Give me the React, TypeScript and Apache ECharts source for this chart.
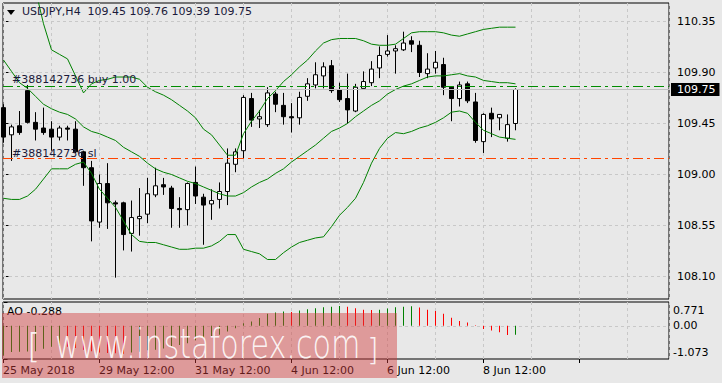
import React, { useEffect, useRef } from 'react';
import * as echarts from 'echarts';

const symbolName = 'USDJPY,H4';
const orderId = '#388142736';
const buyLabel = 'buy 1.00';
const slLabel = 'sl';
const buyPrice = 109.7765;
const slPrice = 109.1412;
const lastPrice = 109.75;

const opens = [109.59,109.35,109.43,109.74,109.46,109.41,109.40,109.33,109.41,109.40,109.20,109.06,108.58,108.92,108.75,108.75,108.48,108.61,108.65,108.82,108.91,108.88,108.70,108.69,108.93,108.80,108.74,108.78,108.85,109.09,109.21,109.67,109.49,109.44,109.71,109.61,109.51,109.50,109.69,109.79,109.87,109.96,109.75,109.67,109.56,109.76,109.81,109.94,110.06,110.09,110.10,110.18,110.14,109.89,109.94,109.97,109.77,109.67,109.80,109.64,109.29,109.54,109.50,109.32,109.45];
const highs = [109.62,109.44,109.56,109.79,109.55,109.59,109.47,109.43,109.43,109.47,109.21,109.12,109.00,109.10,108.77,108.76,108.77,108.88,108.97,109.06,108.97,108.90,108.80,108.93,109.07,108.83,108.87,108.93,109.23,109.23,109.70,109.72,109.57,109.77,109.73,109.72,109.63,109.73,109.85,109.99,109.99,110.01,109.81,109.89,109.80,109.91,110.00,110.13,110.23,110.14,110.26,110.22,110.18,110.07,110.09,110.03,109.78,109.82,109.82,109.72,109.54,109.59,109.53,109.53,109.76];
const lows = [109.28,109.12,109.35,109.45,109.30,109.35,109.21,109.30,109.30,109.19,108.90,108.41,108.53,108.52,108.09,108.33,108.32,108.46,108.57,108.80,108.82,108.53,108.53,108.55,108.74,108.38,108.60,108.70,108.73,109.02,109.14,109.42,109.41,109.42,109.55,109.44,109.37,109.44,109.65,109.76,109.76,109.72,109.64,109.45,109.55,109.76,109.78,109.85,110.04,109.89,110.09,110.08,109.86,109.85,109.89,109.70,109.47,109.60,109.63,109.28,109.19,109.33,109.39,109.29,109.39];
const closes = [109.33,109.42,109.37,109.46,109.40,109.37,109.33,109.41,109.40,109.20,109.06,108.59,108.92,108.75,108.74,108.47,108.62,108.63,108.83,108.90,108.89,108.70,108.69,108.92,108.81,108.73,108.77,108.85,109.10,109.20,109.68,109.48,109.51,109.72,109.62,109.51,109.50,109.68,109.80,109.88,109.95,109.74,109.66,109.57,109.77,109.82,109.93,110.05,110.09,110.11,110.16,110.15,109.90,109.93,109.99,109.77,109.67,109.79,109.65,109.30,109.53,109.49,109.53,109.44,109.75];

const bbUpper = [111.20,111.10,111.00,110.86,110.63,110.33,110.10,110.06,110.02,109.87,109.72,109.80,109.83,109.84,109.86,109.86,109.86,109.84,109.77,109.73,109.70,109.66,109.61,109.56,109.50,109.40,109.35,109.26,109.17,109.17,109.36,109.47,109.56,109.67,109.74,109.82,109.88,109.95,110.01,110.09,110.16,110.19,110.20,110.20,110.20,110.18,110.15,110.14,110.14,110.15,110.20,110.25,110.26,110.26,110.26,110.25,110.23,110.22,110.24,110.26,110.28,110.29,110.30,110.30,110.30];
const bbMiddle = [110.01,109.91,109.81,109.76,109.69,109.62,109.58,109.55,109.53,109.49,109.42,109.38,109.36,109.33,109.30,109.24,109.20,109.16,109.10,109.05,109.02,109.00,108.97,108.94,108.92,108.89,108.86,108.83,108.81,108.81,108.84,108.89,108.93,108.96,109.01,109.05,109.11,109.16,109.21,109.26,109.32,109.38,109.41,109.45,109.51,109.56,109.61,109.65,109.71,109.75,109.78,109.80,109.83,109.86,109.87,109.87,109.88,109.89,109.87,109.86,109.83,109.82,109.81,109.81,109.80];
const bbLower = [108.79,108.78,108.78,108.81,108.87,108.96,109.05,109.05,109.05,109.09,109.11,109.01,108.87,108.79,108.71,108.59,108.47,108.41,108.40,108.40,108.38,108.36,108.34,108.34,108.35,108.35,108.37,108.41,108.47,108.47,108.34,108.32,108.30,108.25,108.25,108.31,108.36,108.40,108.42,108.44,108.45,108.54,108.64,108.71,108.79,108.93,109.10,109.23,109.32,109.37,109.36,109.38,109.41,109.43,109.46,109.50,109.55,109.56,109.54,109.46,109.39,109.36,109.33,109.32,109.31];

const aoValues = [-0.95,-0.85,-0.84,-0.83,-0.82,-0.74,-0.68,-0.66,-0.68,-0.72,-0.77,-0.82,-0.86,-0.88,-0.89,-0.90,-0.86,-0.84,-0.79,-0.77,-0.73,-0.68,-0.62,-0.56,-0.47,-0.40,-0.34,-0.29,-0.18,-0.08,0.08,0.14,0.25,0.39,0.43,0.46,0.45,0.50,0.54,0.57,0.60,0.62,0.645,0.62,0.57,0.52,0.51,0.52,0.56,0.60,0.62,0.63,0.59,0.52,0.48,0.39,0.26,0.16,0.11,0.02,-0.10,-0.15,-0.21,-0.30,-0.288];

const priceTicks = [108.10, 108.55, 109.00, 109.45, 109.90, 110.35];
const aoTicks = [-1.073, 0, 0.771];
const timeLabels = ['25 May 2018', '29 May 12:00', '31 May 12:00', '4 Jun 12:00', '6 Jun 12:00', '8 Jun 12:00'];

const FONT = 'DejaVu Sans';
const BG = '#e8e8e8';
const X_MIN = -0.0625;
const X_MAX = 83.1875;
const Y_MIN = 107.9014;
const Y_MAX = 110.5132;
const AO_MIN = -1.073;
const AO_MAX = 0.771;

export default function App() {
  const ref = useRef<HTMLDivElement>(null);

  useEffect(() => {
    const chart = echarts.init(ref.current as HTMLDivElement, null, { renderer: 'svg' });
    const n = closes.length;
    const candleData = opens.map((o, i) => [i, o, closes[i], lows[i], highs[i]]);
    const band = (arr: number[]) => arr.map((v, i) => [i, v]);
    const aoData = aoValues.map((v, i) => ({
      value: [i, v],
      itemStyle: { color: i === 0 || v > aoValues[i - 1] ? '#008000' : '#ff0000' },
    }));
    const txt = { fontFamily: FONT, fontSize: 11, color: '#000' };
    const bandLine = (data: number[], name: string) => ({
      name,
      type: 'line',
      xAxisIndex: 0,
      yAxisIndex: 0,
      data: band(data),
      symbol: 'none',
      z: 3,
      lineStyle: { color: '#008000', width: 1 },
    });

    const option: any = {
      animation: false,
      backgroundColor: BG,
      textStyle: { fontFamily: FONT },
      title: [
        {
          text: `${symbolName}  ${opens[n - 1].toFixed(2)} ${highs[n - 1].toFixed(2)} ${lows[n - 1].toFixed(2)} ${closes[n - 1].toFixed(2)}`,
          left: 22,
          top: 6,
          padding: 0,
          textStyle: { fontFamily: FONT, fontSize: 11, fontWeight: 'normal', color: '#1a1a3a' },
        },
        {
          text: `AO ${aoValues[n - 1].toFixed(3)}`,
          left: 7,
          top: 306,
          padding: 0,
          textStyle: { fontFamily: FONT, fontSize: 11, fontWeight: 'normal', color: '#000' },
        },
      ],
      grid: [
        { left: 3, top: 3, width: 666, height: 296, show: true, borderColor: '#000', borderWidth: 1, backgroundColor: 'transparent' },
        { left: 3, top: 302, width: 666, height: 57, show: true, borderColor: '#000', borderWidth: 1, backgroundColor: 'transparent' },
      ],
      xAxis: [
        {
          type: 'value', gridIndex: 0, min: X_MIN, max: X_MAX, interval: 6,
          axisLine: { show: false }, axisTick: { show: false }, axisLabel: { show: false },
          splitLine: { show: true, lineStyle: { color: '#c8c8c8', type: [3, 3], width: 1 } },
        },
        {
          type: 'value', gridIndex: 1, min: X_MIN, max: X_MAX, interval: 6, position: 'top',
          axisLine: { show: false }, axisTick: { show: false }, axisLabel: { show: false },
          splitLine: { show: true, lineStyle: { color: '#c8c8c8', type: [3, 3], width: 1 } },
        },
        {
          type: 'value', gridIndex: 1, min: X_MIN, max: X_MAX, interval: 12, position: 'bottom',
          axisLine: { show: false },
          axisTick: { show: true, length: 4, lineStyle: { color: '#000' } },
          axisLabel: {
            ...txt, align: 'left', margin: 6, showMinLabel: true, showMaxLabel: false,
            formatter: (v: number) => timeLabels[Math.round((v - X_MIN) / 12)] ?? '',
          },
          splitLine: { show: false },
        },
      ],
      yAxis: [
        {
          type: 'value', gridIndex: 0, position: 'right', min: Y_MIN, max: Y_MAX,
          axisLine: { show: false },
          axisTick: { show: true, customValues: priceTicks, length: 5, lineStyle: { color: '#000' } },
          axisLabel: { ...txt, customValues: priceTicks, margin: 8, formatter: (v: number) => v.toFixed(2) },
          splitLine: { show: false },
        },
        {
          type: 'value', gridIndex: 1, position: 'right', min: AO_MIN, max: AO_MAX,
          axisLine: { show: false },
          axisTick: { show: true, customValues: aoTicks, length: 4, lineStyle: { color: '#000' } },
          axisLabel: {
            ...txt, customValues: aoTicks, margin: 4,
            formatter: (v: number) => {
              if (Math.abs(v - AO_MAX) < 1e-6) return `{t|${v.toFixed(3)}}`;
              if (Math.abs(v - AO_MIN) < 1e-6) return `{b|${v.toFixed(3)}}`;
              return v.toFixed(2);
            },
            rich: {
              t: { ...txt, padding: [17, 0, 0, 0] },
              b: { ...txt, padding: [0, 0, 14, 0] },
            },
          },
          splitLine: { show: false },
        },
      ],
      series: [
        {
          name: symbolName,
          type: 'candlestick',
          xAxisIndex: 0,
          yAxisIndex: 0,
          data: candleData,
          barWidth: 4,
          z: 2,
          itemStyle: { color: '#ffffff', color0: '#000000', borderColor: '#000000', borderColor0: '#000000', borderWidth: 1 },
          markLine: {
            z: 1,
            silent: true,
            symbol: 'none',
            label: { show: false },
            lineStyle: { color: '#c8c8c8', type: [3, 3], width: 1 },
            data: priceTicks.map((v) => ({ yAxis: v })),
          },
        },
        bandLine(bbUpper, 'BB upper'),
        bandLine(bbMiddle, 'BB middle'),
        {
          ...bandLine(bbLower, 'BB lower'),
          markLine: {
            z: 6,
            silent: true,
            symbol: 'none',
            data: [
              {
                yAxis: lastPrice,
                lineStyle: { color: '#c0c0c0', type: 'solid', width: 1 },
                label: {
                  show: true, position: 'end', formatter: lastPrice.toFixed(2), distance: 2,
                  backgroundColor: '#000', color: '#fff', padding: [1, 4, 1, 6], fontFamily: FONT, fontSize: 11,
                },
              },
              {
                yAxis: buyPrice,
                lineStyle: { color: '#008c00', type: [10, 4, 3, 4], width: 1 },
                label: {
                  show: true, position: 'insideStartTop', formatter: `${orderId} ${buyLabel}`, distance: [9, 1],
                  color: '#1a1a3a', fontFamily: FONT, fontSize: 11,
                },
              },
              {
                yAxis: slPrice,
                lineStyle: { color: '#ff4500', type: [10, 4, 3, 4], width: 1 },
                label: {
                  show: true, position: 'insideStartTop', formatter: `${orderId} ${slLabel}`, distance: [9, 0],
                  color: '#1a1a3a', fontFamily: FONT, fontSize: 11,
                },
              },
            ],
          },
        },
        {
          name: 'AO',
          type: 'bar',
          xAxisIndex: 1,
          yAxisIndex: 1,
          data: aoData,
          barWidth: 1,
          z: 2,
          markLine: {
            z: 1,
            silent: true,
            symbol: 'none',
            label: { show: false },
            lineStyle: { color: '#c8c8c8', type: [3, 3], width: 1 },
            data: [{ yAxis: 0 }],
          },
        },
      ],
      graphic: {
        elements: [
          { type: 'polygon', shape: { points: [[7, 10], [15, 10], [11, 15]] }, style: { fill: '#000' }, z: 10 },
          { type: 'rect', shape: { x: 2, y: 313, width: 395, height: 65 }, style: { fill: 'rgba(210,60,60,0.45)' }, z: 100 },
          {
            type: 'text', x: 27, y: 346, z: 101,
            style: { text: '[', fill: 'rgba(255,255,255,0.9)', font: '200 34px "DejaVu Sans"', align: 'left', verticalAlign: 'middle', textAlign: 'left', textVerticalAlign: 'middle' },
          },
          {
            type: 'text', x: 55, y: 344, scaleX: 0.755, z: 101,
            style: { text: 'www.instaforex.com', fill: 'rgba(255,255,255,0.9)', font: '200 40px "DejaVu Sans"', align: 'left', verticalAlign: 'middle', textAlign: 'left', textVerticalAlign: 'middle' },
          },
          {
            type: 'text', x: 367, y: 349, z: 101,
            style: { text: ']', fill: 'rgba(255,255,255,0.9)', font: '200 30px "DejaVu Sans"', align: 'left', verticalAlign: 'middle', textAlign: 'left', textVerticalAlign: 'middle' },
          },
        ],
      },
    };

    chart.setOption(option);
    return () => chart.dispose();
  }, []);

  return (
    <div
      ref={ref}
      style={{ position: 'fixed', left: 0, top: 0, width: 722, height: 383, background: BG }}
    />
  );
}
